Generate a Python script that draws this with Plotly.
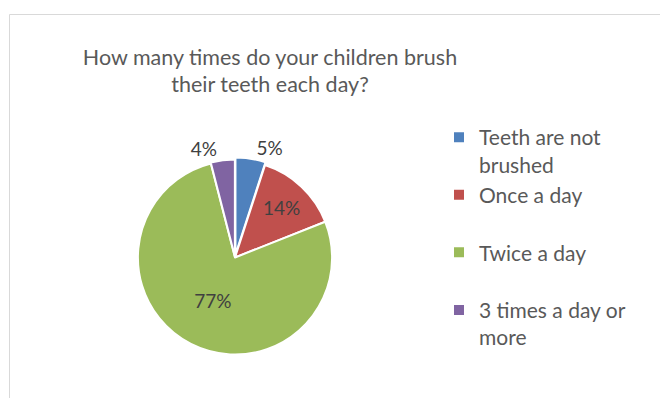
import plotly.graph_objects as go

# Survey answers and their shares (percent)
labels = ["Teeth are not<br>brushed", "Once a day<br> ", "Twice a day<br> ", "3 times a day or<br>more"]
shares = [5, 14, 77, 4]
colors = ["#4F81BD", "#C0504D", "#9BBB59", "#8064A2"]
text_positions = ["outside", "inside", "inside", "outside"]

W, H = 660, 398
FONT = "Lato"

fig = go.Figure(
    go.Pie(
        labels=labels,
        values=shares,
        sort=False,
        direction="clockwise",
        rotation=0,
        marker=dict(colors=colors, line=dict(color="white", width=2)),
        pull=[0.03, 0, 0, 0.01],
        texttemplate="%{percent:.0%}",
        textposition=text_positions,
        insidetextorientation="horizontal",
        textfont=dict(family=FONT, size=19, color="#404040"),
        domain=dict(x=[135 / W, 335 / W], y=[40.5 / H, 240.5 / H]),
        hoverinfo="label+percent",
    )
)

# Light chart-area frame, open past the right and bottom edges
fig.add_shape(
    type="rect", xref="paper", yref="paper",
    x0=9.5 / W, x1=1.05, y0=-0.05, y1=1 - 14.5 / H,
    line=dict(color="#D9D9D9", width=1), fillcolor="rgba(0,0,0,0)", layer="below",
)

fig.update_layout(
    width=W, height=H,
    margin=dict(l=0, r=0, t=0, b=0),
    paper_bgcolor="white", plot_bgcolor="white",
    title=dict(
        text="How many times do your children brush<br>their teeth each day?",
        x=270 / W, xanchor="center", y=1 - 64.5 / H, yanchor="middle",
        font=dict(family=FONT, size=21.5, color="#595959"),
    ),
    legend=dict(
        x=439 / W, xanchor="left", y=1 - 117 / H, yanchor="top",
        valign="top",
        font=dict(family=FONT, size=21, color="#595959"),
        bgcolor="rgba(0,0,0,0)",
    ),
    showlegend=True,
)

fig.write_html("out.html")
